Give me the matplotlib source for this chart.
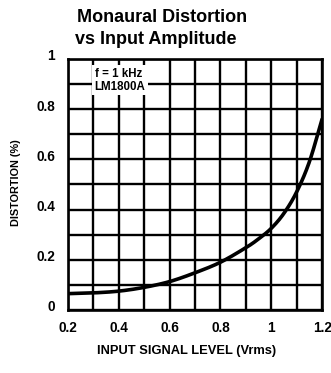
import matplotlib
matplotlib.use("Agg")
import matplotlib.pyplot as plt
import numpy as np

# Distortion vs input level (LM1800A, f = 1 kHz)
input_level = [0.2, 0.3, 0.4, 0.5, 0.6, 0.7, 0.8, 0.9, 0.95, 1.0, 1.05, 1.1, 1.15, 1.2]
distortion = [0.065, 0.068, 0.075, 0.09, 0.113, 0.148, 0.19, 0.248, 0.283, 0.325, 0.385,
              0.47, 0.59, 0.76]

x_ticks = [0.2, 0.4, 0.6, 0.8, 1.0, 1.2]
x_tick_labels = ["0.2", "0.4", "0.6", "0.8", "1", "1.2"]
y_ticks = [0, 0.2, 0.4, 0.6, 0.8, 1.0]
y_tick_labels = ["0", "0.2", "0.4", "0.6", "0.8", "1"]

plt.rcParams['font.family'] = ['Liberation Sans', 'DejaVu Sans']
plt.rcParams['font.weight'] = 'bold'


def catmull_rom(px, py, n=30):
    """Smooth curve passing through every given point."""
    P = np.column_stack([np.asarray(px, float), np.asarray(py, float)])
    P = np.vstack([2 * P[0] - P[1], P, 2 * P[-1] - P[-2]])
    out = []
    for i in range(1, len(P) - 2):
        p0, p1, p2, p3 = P[i - 1], P[i], P[i + 1], P[i + 2]
        t = np.linspace(0, 1, n, endpoint=False)[:, None]
        seg = 0.5 * ((2 * p1) + (-p0 + p2) * t + (2 * p0 - 5 * p1 + 4 * p2 - p3) * t ** 2
                     + (-p0 + 3 * p1 - 3 * p2 + p3) * t ** 3)
        out.append(seg)
    out.append(P[-2][None, :])
    c = np.vstack(out)
    return c[:, 0], c[:, 1]


fig = plt.figure(figsize=(3.31, 3.73), dpi=100)
ax = fig.add_axes([0.205, 0.169, 0.768, 0.673])

cx, cy = catmull_rom(input_level, distortion)
ax.plot(cx, cy, color='black', lw=2.6, solid_capstyle='round', zorder=3)

ax.set_xlim(0.2, 1.2)
ax.set_ylim(0, 1.0)
ax.set_xticks(np.arange(0.2, 1.201, 0.1))
ax.set_yticks(np.arange(0, 1.001, 0.1))
ax.grid(True, color='black', lw=1.7)
ax.tick_params(length=0, labelbottom=False, labelleft=False)
for s in ax.spines.values():
    s.set_linewidth(1.9)

for v, t in zip(x_ticks, x_tick_labels):
    ax.text(v, -0.045, t, ha='center', va='top', fontsize=9.8, fontweight='bold')
for v, t in zip(y_ticks, y_tick_labels):
    ax.text(0.15, v + 0.01, t, ha='right', va='center', fontsize=9.8, fontweight='bold')

ax.text(0.305, 0.915, "f = 1 kHz\nLM1800A", ha='left', va='center', fontsize=8.3,
        fontweight='bold', linespacing=1.1, zorder=4,
        bbox=dict(facecolor='white', edgecolor='none', pad=2.0))

fig.text(0.565, 0.059, "INPUT SIGNAL LEVEL (Vrms)", ha='center', va='center',
         fontsize=9.3, fontweight='bold')
fig.text(0.048, 0.51, "DISTORTION (%)", ha='center', va='center', rotation=90,
         fontsize=7.8, fontweight='bold')
fig.text(0.232, 0.941, "Monaural Distortion", ha='left', va='baseline',
         fontsize=13, fontweight='bold')
fig.text(0.226, 0.882, "vs Input Amplitude", ha='left', va='baseline',
         fontsize=13, fontweight='bold')

fig.savefig("out.png", dpi=100)
